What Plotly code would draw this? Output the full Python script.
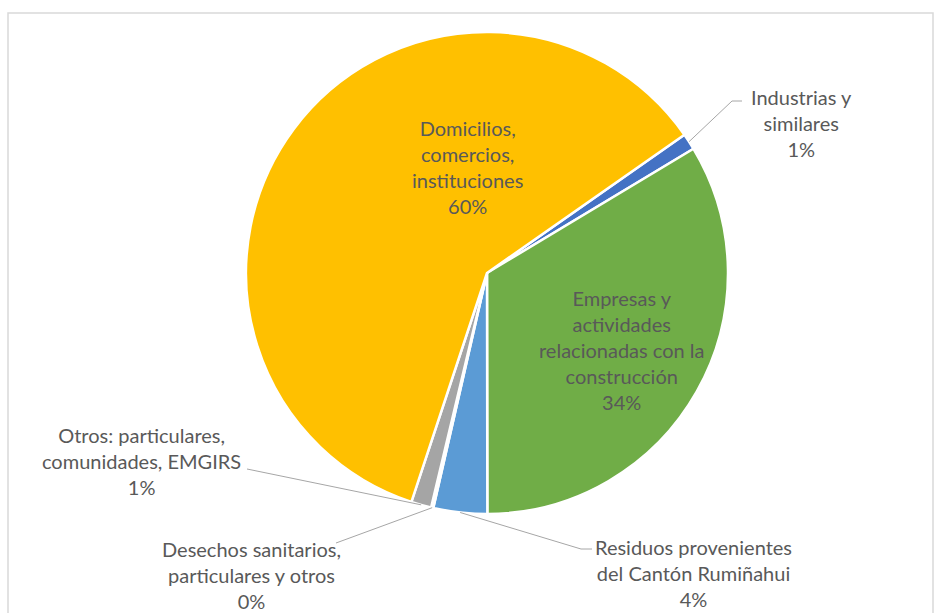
import math
import plotly.graph_objects as go

# ---- data ----
labels = [
    "Industrias y similares",
    "Empresas y actividades relacionadas con la construcción",
    "Residuos provenientes del Cantón Rumiñahui",
    "Desechos sanitarios, particulares y otros",
    "Otros: particulares, comunidades, EMGIRS",
    "Domicilios, comercios, instituciones",
]
label_lines = [
    ["Industrias y", "similares"],
    ["Empresas y", "actividades", "relacionadas con la", "construcción"],
    ["Residuos provenientes", "del Cantón Rumiñahui"],
    ["Desechos sanitarios,", "particulares y otros"],
    ["Otros: particulares,", "comunidades, EMGIRS"],
    ["Domicilios,", "comercios,", "instituciones"],
]
values = [1.1, 33.6, 3.6, 0.15, 1.35, 60.2]
colors = ["#4472C4", "#70AD47", "#5B9BD5", "#A9C4E8", "#A5A5A5", "#FFC000"]

# ---- layout (pixels) ----
W, H = 938, 613
CX, CY, R = 487, 273, 241
ROT = 55

def X(px):
    return px / W

def Y(py):
    return 1 - py / H

# label centre positions (px)
label_pos = [(801, 123), (621, 350), (693, 573), (251, 575), (141, 461), (467, 167)]
# leader: px points from text side toward slice (None = no leader)
leader_text_end = [
    [(742, 101), (732, 101)],
    None,
    [(592, 549), (581, 549)],
    [(336, 543)],
    [(247, 469)],
    None,
]

total = sum(values)
fig = go.Figure(go.Pie(
    labels=labels,
    values=values,
    sort=False,
    direction="clockwise",
    rotation=ROT,
    marker=dict(colors=colors, line=dict(color="white", width=2.5)),
    textinfo="none",
    hoverinfo="label+percent",
    showlegend=False,
    domain=dict(x=[X(CX - R), X(CX + R)], y=[Y(CY + R), Y(CY - R)]),
))

annotations = []
shapes = []
cum = 0.0
for i, v in enumerate(values):
    pct = round(v / total * 100)
    txt = "<br>".join(label_lines[i] + [f"{pct}%"])
    lx, ly = label_pos[i]
    annotations.append(dict(
        x=X(lx), y=Y(ly), xref="paper", yref="paper",
        text=txt, showarrow=False, xanchor="center", yanchor="middle",
        align="center", font=dict(family="Lato, Calibri, sans-serif", size=20, color="#595959"),
    ))
    mid = ROT + (cum + v / 2) / total * 360
    cum += v
    if leader_text_end[i] is not None:
        ax = CX + R * math.sin(math.radians(mid))
        ay = CY - R * math.cos(math.radians(mid))
        pts = leader_text_end[i] + [(ax, ay)]
        path = "M " + " L ".join(f"{X(p[0])},{Y(p[1])}" for p in pts)
        shapes.append(dict(type="path", xref="paper", yref="paper", path=path,
                           line=dict(color="#A6A6A6", width=1)))

# chart area border (top, left, right)
shapes.append(dict(type="path", xref="paper", yref="paper",
                   path=f"M {X(8)},{Y(640)} L {X(8)},{Y(13)} L {X(933)},{Y(13)} L {X(933)},{Y(640)}",
                   line=dict(color="#D9D9D9", width=1.5)))

fig.update_layout(
    width=W, height=H,
    margin=dict(l=0, r=0, t=0, b=0),
    paper_bgcolor="white",
    plot_bgcolor="white",
    annotations=annotations,
    shapes=shapes,
)

fig.write_html("out.html")
